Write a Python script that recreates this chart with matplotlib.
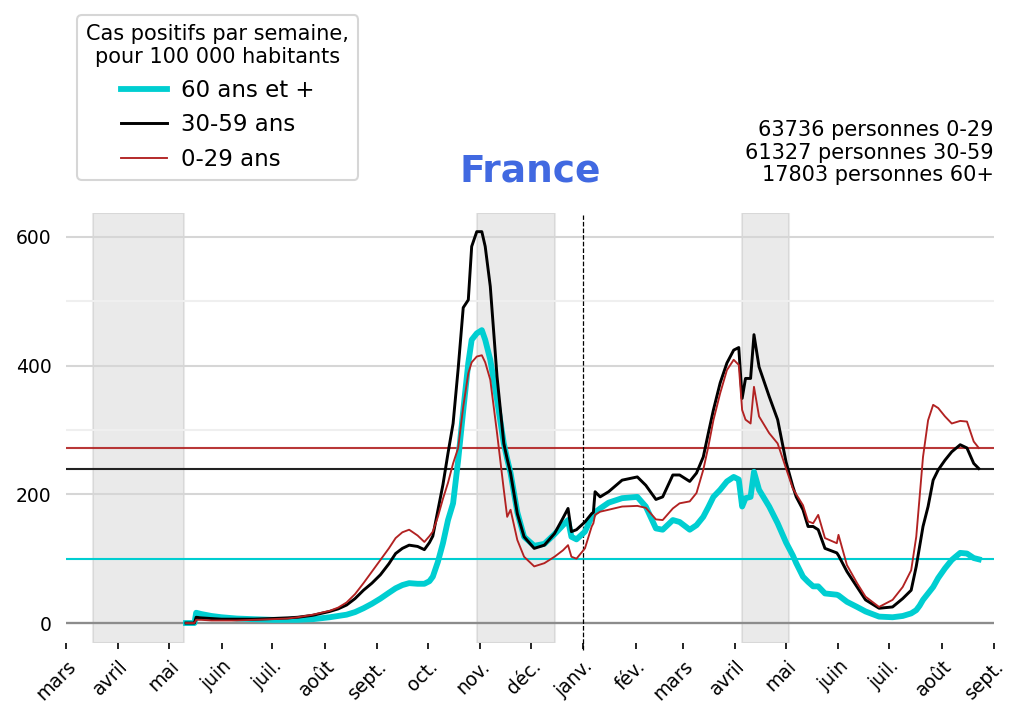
import numpy as np
import matplotlib
matplotlib.use('Agg')
import matplotlib.pyplot as plt
import pandas as pd

# Données (cas positifs par semaine pour 100 000 hab.)
dates = ['2020-05-11', '2020-05-16', '2020-05-17', '2020-05-20', '2020-05-26', '2020-06-01',
         '2020-06-10', '2020-06-20', '2020-07-01', '2020-07-10', '2020-07-16', '2020-07-25',
         '2020-08-04', '2020-08-09', '2020-08-14', '2020-08-19', '2020-08-24', '2020-08-29',
         '2020-09-03', '2020-09-08', '2020-09-12', '2020-09-16', '2020-09-20', '2020-09-25',
         '2020-09-29', '2020-10-02', '2020-10-04', '2020-10-07', '2020-10-10', '2020-10-13',
         '2020-10-16', '2020-10-19', '2020-10-22', '2020-10-25', '2020-10-27', '2020-10-30',
         '2020-11-02', '2020-11-04', '2020-11-07', '2020-11-11', '2020-11-15', '2020-11-17',
         '2020-11-19', '2020-11-23', '2020-11-27', '2020-12-03', '2020-12-09', '2020-12-15',
         '2020-12-20', '2020-12-23', '2020-12-25', '2020-12-28', '2021-01-02', '2021-01-06',
         '2021-01-07', '2021-01-08', '2021-01-11', '2021-01-16', '2021-01-24', '2021-02-02',
         '2021-02-07', '2021-02-13', '2021-02-17', '2021-02-23', '2021-02-27', '2021-03-05',
         '2021-03-09', '2021-03-13', '2021-03-16', '2021-03-19', '2021-03-23', '2021-03-27',
         '2021-03-31', '2021-04-03', '2021-04-05', '2021-04-07', '2021-04-10', '2021-04-12',
         '2021-04-15', '2021-04-21', '2021-04-26', '2021-05-01', '2021-05-05', '2021-05-07',
         '2021-05-11', '2021-05-14', '2021-05-17', '2021-05-20', '2021-05-24', '2021-05-31',
         '2021-06-01', '2021-06-06', '2021-06-12', '2021-06-17', '2021-06-25', '2021-07-03',
         '2021-07-09', '2021-07-14', '2021-07-17', '2021-07-19', '2021-07-21', '2021-07-24',
         '2021-07-27', '2021-07-30', '2021-08-03', '2021-08-07', '2021-08-12', '2021-08-16',
         '2021-08-20', '2021-08-23']

cas_60 = [0, 0, 16, 14, 11, 9, 7, 6, 5, 5, 5, 6,
          9, 11, 13, 17, 23, 30, 38, 47, 54, 59, 62, 61,
          61, 65, 72, 95, 124, 160, 186, 253, 330, 404, 440, 450,
          455, 440, 409, 347, 279, 255, 233, 172, 134, 120, 123, 138,
          152, 160, 134, 130, 142, 165, 168, 172, 178, 187, 194, 196,
          181, 147, 145, 160, 157, 145, 152, 165, 180, 196, 207, 220,
          227, 223, 181, 194, 196, 235, 207, 181, 155, 125, 105, 93,
          72, 64, 57, 57, 46, 44, 43, 33, 25, 18, 10, 9,
          11, 15, 20, 27, 36, 46, 56, 70, 85, 98, 109, 108,
          101, 99]

cas_30_59 = [0, 0, 9, 8, 7, 6, 6, 6, 7, 8, 9, 12,
             18, 22, 28, 38, 51, 62, 75, 92, 108, 116, 121, 119,
             114, 125, 135, 175, 215, 264, 310, 395, 490, 502, 585, 608,
             608, 585, 523, 383, 279, 255, 233, 170, 134, 116, 121, 139,
             163, 178, 142, 145, 157, 170, 172, 204, 196, 204, 222, 227,
             214, 192, 196, 230, 230, 220, 233, 258, 295, 331, 373, 404,
             424, 428, 349, 380, 380, 448, 398, 352, 316, 250, 212, 196,
             176, 150, 150, 145, 116, 109, 105, 80, 56, 36, 23, 25,
             38, 51, 88, 119, 150, 181, 222, 238, 253, 266, 277, 272,
             248, 240]

cas_0_29 = [0, 0, 5, 5, 4, 4, 4, 5, 6, 7, 9, 13,
            19, 24, 32, 45, 62, 80, 98, 116, 132, 141, 145, 136,
            126, 135, 142, 165, 193, 218, 248, 272, 336, 388, 405, 414,
            416, 405, 378, 295, 207, 165, 176, 129, 103, 88, 93, 103,
            113, 121, 103, 100, 116, 150, 155, 168, 173, 176, 181, 182,
            179, 161, 160, 178, 186, 189, 202, 238, 274, 315, 357, 393,
            409, 401, 331, 316, 310, 367, 321, 295, 279, 240, 209, 200,
            183, 158, 155, 168, 132, 124, 137, 90, 62, 41, 25, 36,
            56, 82, 134, 196, 258, 315, 339, 334, 321, 310, 314, 313,
            282, 272]

mois = ['mars', 'avril', 'mai', 'juin', 'juil.', 'août', 'sept.', 'oct.', 'nov.', 'déc.',
        'janv.', 'fév.', 'mars', 'avril', 'mai', 'juin', 'juil.', 'août', 'sept.']

confinements = [('2020-03-17', '2020-05-10'), ('2020-10-30', '2020-12-15'),
                ('2021-04-05', '2021-05-03')]

populations = '63736 personnes 0-29\n61327 personnes 30-59\n17803 personnes 60+'

d = pd.to_datetime(dates)

fig = plt.figure(figsize=(1023/150, 721/150), dpi=150)
ax = fig.add_axes([66/1023, 1-643/721, 928/1023, 430/721])

# grille
ax.set_yticks([0, 200, 400, 600])
ax.set_yticks([100, 300, 500], minor=True)
ax.grid(axis='y', which='major', color='#d6d6d6', lw=1)
ax.grid(axis='y', which='minor', color='#efefef', lw=1)
ax.set_axisbelow(True)
ax.axhline(0, color='#8c8c8c', lw=1.1, zorder=1)

# confinements
for d0, d1 in confinements:
    ax.axvspan(pd.Timestamp(d0), pd.Timestamp(d1), facecolor='0.5', edgecolor='0.5',
               alpha=0.16, lw=1, zorder=0.5)

ax.plot(d, cas_60, color='#00CED1', lw=2.8, label='60 ans et +', zorder=3)
ax.plot(d, cas_30_59, color='black', lw=1.4, label='30-59 ans', zorder=4)
ax.plot(d, cas_0_29, color='#B22222', lw=0.9, label='0-29 ans', zorder=4)

# niveaux actuels
ax.axhline(cas_60[-1], color='#00CED1', lw=1, zorder=2)
ax.axhline(cas_30_59[-1], color='#222222', lw=1, zorder=2)
ax.axhline(cas_0_29[-1], color='#B22222', lw=1, alpha=0.9, zorder=2)

ax.axvline(pd.Timestamp('2021-01-01'), color='black', lw=0.6, ls='--',
           ymin=-0.016, ymax=0.995, clip_on=False)

ax.set_xlim(pd.Timestamp('2020-03-01'), pd.Timestamp('2021-09-01'))
ax.set_ylim(-31, 637)

ticks = pd.date_range('2020-03-01', '2021-09-01', freq='MS')
ax.set_xticks(ticks)
ax.set_xticklabels(mois)
plt.setp(ax.get_xticklabels(), rotation=45, ha='right', rotation_mode='anchor')
ax.tick_params(axis='x', length=3, width=0.8, labelsize=9)
ax.tick_params(axis='y', which='both', length=0, pad=7, labelsize=9)
for s in ax.spines.values():
    s.set_visible(False)

ax.set_title('France', fontsize=18, fontweight='bold', color='royalblue', pad=15)
ax.text(1.0, 1.065, populations, transform=ax.transAxes, ha='right', va='bottom',
        fontsize=10, multialignment='right', linespacing=1.15)

leg = fig.legend(loc='upper left', bbox_to_anchor=(77/1023, 1-15/721), borderaxespad=0,
                 fontsize=11, title='Cas positifs par semaine,\npour 100 000 habitants',
                 title_fontsize=10, edgecolor='#cccccc', handletextpad=0.6)
leg.get_title().set_multialignment('center')

fig.savefig('out.png', dpi=150)
